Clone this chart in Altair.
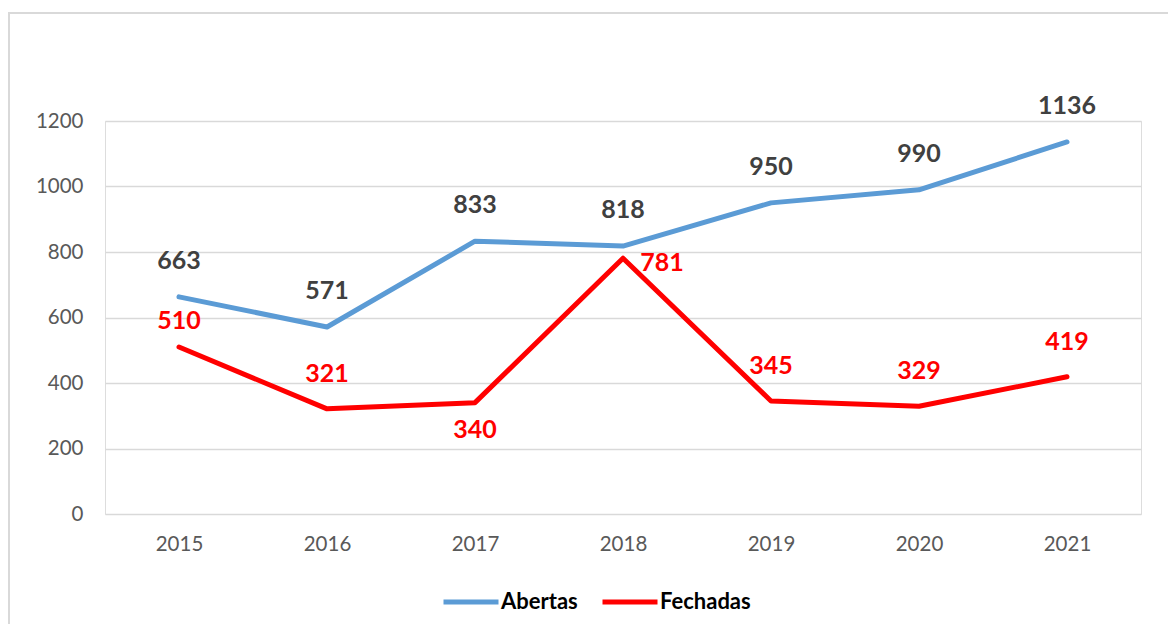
import altair as alt
import pandas as pd

years = ["2015", "2016", "2017", "2018", "2019", "2020", "2021"]
abertas = [663, 571, 833, 818, 950, 990, 1136]
fechadas = [510, 321, 340, 781, 345, 329, 419]
series_names = ["Abertas", "Fechadas"]
series_colors = ["#5B9BD5", "#FF0000"]
y_ticks = [0, 200, 400, 600, 800, 1000, 1200]

rows = []
for yr, a, f in zip(years, abertas, fechadas):
    rows.append({"Ano": yr, "Serie": "Abertas", "Valor": a})
    rows.append({"Ano": yr, "Serie": "Fechadas", "Valor": f})
df = pd.DataFrame(rows)

W, H = 1036, 393
PL, PT = 97, 113
PR = 1160 - PL - W
PB = 616 - PT - H
FONT = "Lato"

x_enc = alt.X(
    "Ano:O",
    sort=years,
    axis=alt.Axis(title=None, labelAngle=0, labelFont=FONT, labelFontSize=20.5,
                  labelColor="#595959", ticks=False, domain=False, labelPadding=20,
                  grid=False),
)
y_enc = alt.Y(
    "Valor:Q",
    scale=alt.Scale(domain=[0, 1200], nice=False),
    axis=alt.Axis(title=None, values=y_ticks, format="d", labelFont=FONT, labelFontSize=20.5,
                  labelColor="#595959", ticks=False, domain=False, labelPadding=22,
                  gridColor="#D9D9D9", gridWidth=1.5),
)
color_enc = alt.Color(
    "Serie:N",
    scale=alt.Scale(domain=series_names, range=series_colors),
    legend=alt.Legend(
        title=None, orient="none", direction="horizontal",
        legendX=336, legendY=451,
        symbolType="stroke", symbolSize=3025, symbolStrokeWidth=5,
        labelFont=FONT, labelFontSize=22, labelFontWeight="bold", labelColor="#000000",
        labelOffset=0, columnPadding=14,
    ),
)

base = alt.Chart(df)

lines = base.mark_line(strokeWidth=5, strokeCap="round", strokeJoin="round").encode(
    x=x_enc, y=y_enc, color=color_enc
)

txt_kw = dict(font=FONT, fontSize=25, fontWeight="bold")
xs = alt.X("Ano:O", sort=years)

lab_ab = base.transform_filter(alt.datum.Serie == "Abertas").mark_text(
    dy=-36, color="#404040", **txt_kw
).encode(x=xs, y="Valor:Q", text="Valor:Q")

lab_fe_above = base.transform_filter(
    (alt.datum.Serie == "Fechadas") & (alt.datum.Ano != "2015")
    & (alt.datum.Ano != "2017") & (alt.datum.Ano != "2018")
).mark_text(dy=-35, color="#FF0000", **txt_kw).encode(x=xs, y="Valor:Q", text="Valor:Q")

lab_fe_first = base.transform_filter(
    (alt.datum.Serie == "Fechadas") & (alt.datum.Ano == "2015")
).mark_text(dy=-26, color="#FF0000", **txt_kw).encode(x=xs, y="Valor:Q", text="Valor:Q")

lab_fe_below = base.transform_filter(
    (alt.datum.Serie == "Fechadas") & (alt.datum.Ano == "2017")
).mark_text(dy=27, color="#FF0000", **txt_kw).encode(x=xs, y="Valor:Q", text="Valor:Q")

lab_fe_right = base.transform_filter(
    (alt.datum.Serie == "Fechadas") & (alt.datum.Ano == "2018")
).mark_text(dx=39, dy=5, color="#FF0000", **txt_kw).encode(x=xs, y="Valor:Q", text="Valor:Q")

border = alt.Chart(pd.DataFrame({"b": [0]})).mark_rect(
    filled=False, stroke="#D9D9D9", strokeWidth=2
).encode(
    x=alt.value(-PL + 1), x2=alt.value(W + PR + 30),
    y=alt.value(-PT + 5), y2=alt.value(H + PB + 30),
)

chart = alt.layer(border, lines, lab_ab, lab_fe_above, lab_fe_first, lab_fe_below,
                  lab_fe_right).properties(
    width=W, height=H,
    autosize=alt.AutoSizeParams(type="none"),
    padding={"left": PL, "top": PT, "right": PR, "bottom": PB},
).configure_view(stroke=None).configure(background="white")

chart.save("out.html", embed_options={"renderer": "svg", "actions": False})
